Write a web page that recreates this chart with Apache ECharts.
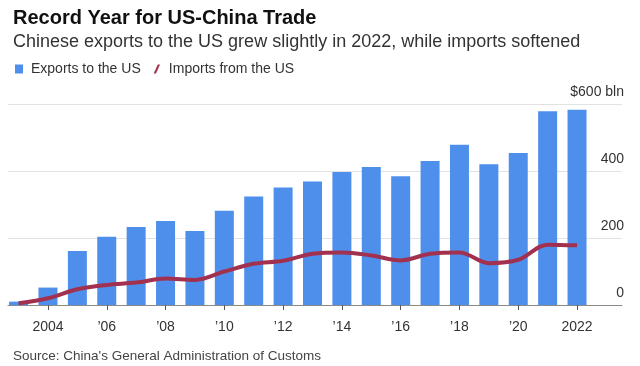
<!DOCTYPE html>
<html><head><meta charset="utf-8">
<script src="https://cdn.jsdelivr.net/npm/echarts@6/dist/echarts.min.js"></script>
<style>html,body{margin:0;padding:0;background:#fff}#c{width:640px;height:366px}</style>
</head><body><div id="c"></div>
<script>
const years = [2003,2004,2005,2006,2007,2008,2009,2010,2011,2012,2013,2014,2015,2016,2017,2018,2019,2020,2021,2022];
const exportsToUS = [10,52,161,204,233,251,221,281,324,351,369,397,412,384,430,478,420,454,578,583];
const importsFromUS = [5,20,47,60,67,79,75,100,123,132,153,157,148,133,153,157,125,135,180,178];
const xTickYears = [2004,2006,2008,2010,2012,2014,2016,2018,2020,2022];
const xTickLabels = ['2004','\u201906','\u201908','\u201910','\u201912','\u201914','\u201916','\u201918','\u201920','2022'];
const yTicks = [0,200,400,600];
const yTickLabels = ['0','200','400','$600 bln'];

const FONT = '"Liberation Sans", Arial, sans-serif';
const BLUE = '#4f8fec';
const RED = '#a2304f';

const chart = echarts.init(document.getElementById('c'), null, {renderer: 'canvas'});
chart.setOption({
  animation: false,
  textStyle: {fontFamily: FONT},
  title: [
    {text: 'Record Year for US-China Trade', left: 8, top: 3,
     textStyle: {fontFamily: FONT, fontSize: 20, fontWeight: 'bold', color: '#111'}},
    {text: 'Chinese exports to the US grew slightly in 2022, while imports softened', left: 8, top: 28,
     textStyle: {fontFamily: FONT, fontSize: 18, fontWeight: 'normal', color: '#333'}},
    {text: "Source: China's General Administration of Customs", left: 8, top: 344,
     textStyle: {fontFamily: FONT, fontSize: 13.5, fontWeight: 'normal', color: '#444'}}
  ],
  legend: {
    left: 10, top: 57, itemWidth: 8, itemHeight: 9, itemGap: 13,
    textStyle: {fontFamily: FONT, fontSize: 14, color: '#333', padding: [0,0,0,3]},
    data: [
      {name: 'Exports to the US', icon: 'rect', itemStyle: {color: BLUE}},
      {name: 'Imports from the US', icon: 'path://M0,20 L5,20 L14,0 L9,0 Z', itemStyle: {color: RED}}
    ]
  },
  grid: {left: 8, right: 18, top: 104, bottom: 61, containLabel: false},
  xAxis: {
    type: 'value', min: 2002.64, max: 2023.53,
    splitLine: {show: false},
    axisLine: {show: true, lineStyle: {color: '#8a8a8a', width: 1}},
    axisTick: {show: true, customValues: xTickYears, length: 5, lineStyle: {color: '#555'}},
    axisLabel: {show: true, customValues: xTickYears, margin: 15, fontSize: 14, color: '#333', fontFamily: FONT,
      formatter: v => xTickLabels[xTickYears.indexOf(Math.round(v))]}
  },
  yAxis: {
    type: 'value', position: 'right', min: 0, max: 600, interval: 200,
    splitLine: {show: true, lineStyle: {color: '#e2e2e2', width: 1}},
    axisLine: {show: false}, axisTick: {show: false},
    axisLabel: {inside: true, margin: -2, fontSize: 14, color: '#333', fontFamily: FONT,
      verticalAlign: 'bottom', padding: [0,0,5,0],
      formatter: v => yTickLabels[yTicks.indexOf(v)]}
  },
  series: [
    {name: 'Exports to the US', type: 'bar', barWidth: 19, itemStyle: {color: BLUE},
     data: years.map((y,i) => [y, exportsToUS[i]]), z: 2},
    {name: 'Imports from the US', type: 'line', smooth: 0.35, symbol: 'none',
     lineStyle: {color: RED, width: 4}, itemStyle: {color: RED},
     data: years.map((y,i) => [y, importsFromUS[i]]), z: 3}
  ]
});
</script></body></html>
